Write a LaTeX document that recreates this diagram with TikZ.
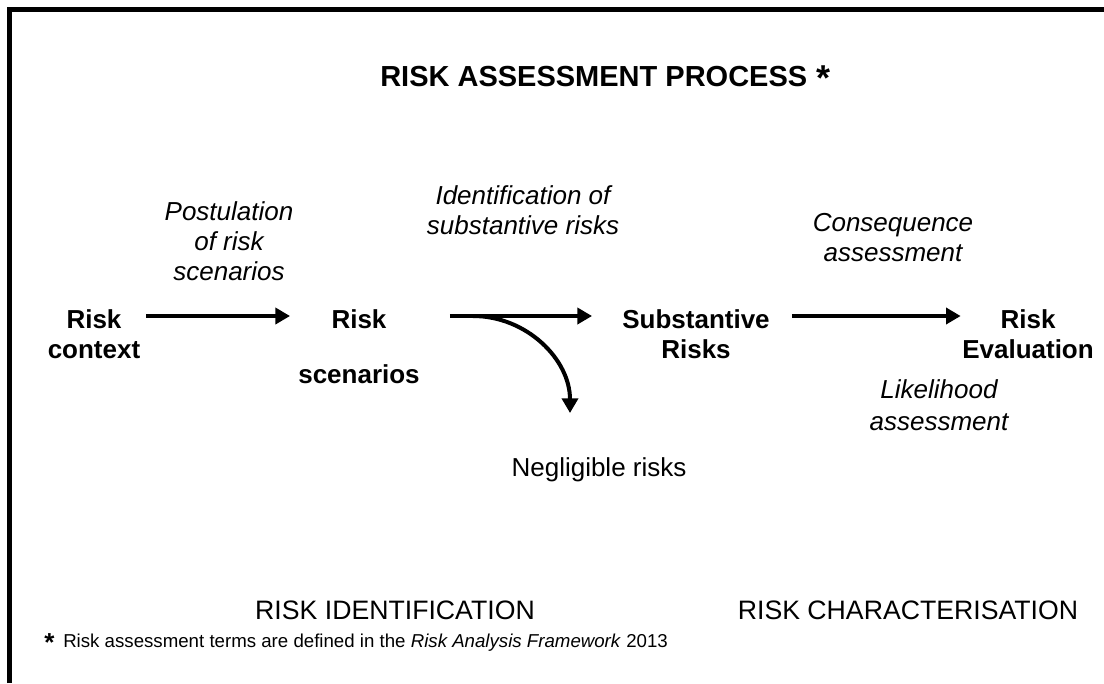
\documentclass[tikz,border=0pt]{standalone}
\usepackage{fontspec}
\setmainfont{Liberation Sans}
\usetikzlibrary{arrows.meta,calc}
\begin{document}
\begin{tikzpicture}[x=0.75pt,y=-0.75pt,
  base/.style={inner sep=0pt, align=center, anchor=north},
  bold/.style={base, font=\fontsize{19.5}{22.5}\selectfont\bfseries},
  ital/.style={base, font=\fontsize{19.5}{22.5}\selectfont\itshape},
  plain/.style={base, font=\fontsize{19.5}{22.5}\selectfont},
  phase/.style={base, font=\fontsize{20}{24}\selectfont},
  arr/.style={line width=3pt, -{Triangle[length=11pt,width=12pt]}},
  frame/.style={line width=3.3pt}]
\useasboundingbox (0,0) rectangle (1104,683);
\draw[frame] (9.5,683) -- (9.5,9.5) -- (1104,9.5);
% title
\node[inner sep=0pt, anchor=base west, font=\fontsize{21.75}{26}\selectfont\bfseries] (title) at (380,86) {RISK ASSESSMENT PROCESS};
\node[inner sep=0pt, anchor=base west, font=\fontsize{27}{30}\selectfont\bfseries] (tstar) at (816,90) {*};
% main nodes
\node[bold] (ctx) at (94,309) {Risk\\context};
\node[bold] (scen) at (359,309) {Risk\\[18.75pt]scenarios};
\node[bold] (subst) at (696,309) {Substantive\\Risks};
\node[bold] (eval) at (1028,309) {Risk\\Evaluation};
% labels
\node[ital] (post) at (229,201) {Postulation\\of risk\\scenarios};
\node[ital] (ident) at (523,185) {Identification of\\substantive risks};
\node[ital] (conseq) at (893,213) {Consequence\\assessment};
\node[ital, font=\fontsize{19.5}{24}\selectfont\itshape] (likeli) at (939,379) {Likelihood\\assessment};
\node[plain] (neg) at (599,457) {Negligible risks};
\node[phase] (riskid) at (395,601) {RISK IDENTIFICATION};
\node[phase] (riskchar) at (908,601) {RISK CHARACTERISATION};
% footnote
\node[inner sep=0pt, anchor=base west, font=\fontsize{19.5}{22}\selectfont\bfseries] (fnstar) at (44,651) {*};
\node[inner sep=0pt, anchor=base west, font=\fontsize{14}{17}\selectfont] (fn) at (63,647) {Risk assessment terms are defined in the \textit{Risk Analysis Framework} 2013};
% connectors
\coordinate (row) at (0,316);
\draw[arr, shorten <=4.5pt, shorten >=6pt] (ctx.east |- row) -- (scen.west |- row);
\draw[arr, shorten <=22.5pt, shorten >=22.5pt] (scen.east |- row) -- (subst.west |- row);
\draw[arr, shorten <=16.5pt, shorten >=1pt] (subst.east |- row) -- (eval.west |- row);
\coordinate (fork) at (473,316);
\coordinate (negtip) at (570,413);
\draw[arr] (fork) .. controls (526.6,316) and (570,359.4) .. (negtip);
\end{tikzpicture}
\end{document}
